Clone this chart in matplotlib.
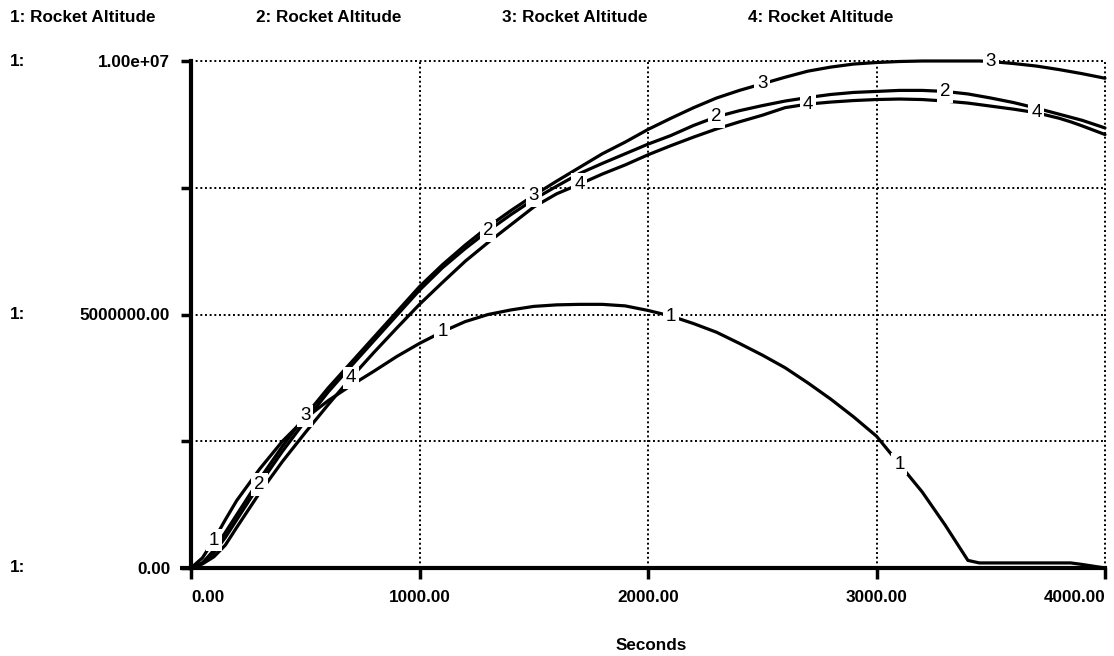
import numpy as np
import matplotlib
matplotlib.use("Agg")
import matplotlib.pyplot as plt
from matplotlib.transforms import blended_transform_factory

plt.rcParams['font.family'] = ['Liberation Sans', 'DejaVu Sans']

# ---- data (seconds, altitude) ----
time = [0, 50, 100, 150, 200, 300, 400, 500, 600, 700, 800, 900, 1000, 1100, 1200,
        1300, 1400, 1500, 1600, 1700, 1800, 1900, 2000, 2100, 2200, 2300, 2400, 2500,
        2600, 2700, 2800, 2900, 3000, 3100, 3200, 3300, 3400, 3450, 3500, 3600, 3700,
        3800, 3850, 3900, 4000]

alt1 = [0, 0.20e6, 0.55e6, 0.95e6, 1.33e6, 1.95e6, 2.50e6, 2.95e6, 3.30e6, 3.60e6,
        3.88e6, 4.17e6, 4.43e6, 4.66e6, 4.86e6, 5.00e6, 5.09e6, 5.16e6, 5.19e6, 5.20e6,
        5.20e6, 5.17e6, 5.08e6, 4.97e6, 4.82e6, 4.65e6, 4.43e6, 4.20e6, 3.95e6, 3.65e6,
        3.33e6, 2.98e6, 2.60e6, 2.05e6, 1.50e6, 0.85e6, 0.15e6, 0.10e6, 0.10e6, 0.10e6,
        0.10e6, 0.10e6, 0.10e6, 0.07e6, 0.0]

alt2 = [0, 0.10e6, 0.30e6, 0.60e6, 0.95e6, 1.65e6, 2.30e6, 2.90e6, 3.47e6, 3.98e6,
        4.48e6, 4.98e6, 5.48e6, 5.92e6, 6.30e6, 6.65e6, 6.97e6, 7.27e6, 7.53e6, 7.78e6,
        7.98e6, 8.17e6, 8.36e6, 8.53e6, 8.73e6, 8.90e6, 9.02e6, 9.12e6, 9.21e6, 9.28e6,
        9.34e6, 9.38e6, 9.40e6, 9.42e6, 9.42e6, 9.40e6, 9.35e6, 9.31e6, 9.27e6, 9.18e6,
        9.07e6, 8.95e6, 8.89e6, 8.83e6, 8.68e6]

alt3 = [0, 0.10e6, 0.35e6, 0.70e6, 1.05e6, 1.75e6, 2.40e6, 3.00e6, 3.55e6, 4.05e6,
        4.55e6, 5.05e6, 5.55e6, 5.98e6, 6.37e6, 6.73e6, 7.05e6, 7.35e6, 7.63e6, 7.90e6,
        8.17e6, 8.40e6, 8.65e6, 8.87e6, 9.08e6, 9.27e6, 9.42e6, 9.55e6, 9.68e6, 9.80e6,
        9.88e6, 9.94e6, 9.97e6, 9.99e6, 10.0e6, 10.0e6, 10.0e6, 10.0e6, 9.99e6, 9.95e6,
        9.90e6, 9.83e6, 9.79e6, 9.75e6, 9.66e6]

alt4 = [0, 0.08e6, 0.22e6, 0.45e6, 0.80e6, 1.48e6, 2.10e6, 2.67e6, 3.22e6, 3.75e6,
        4.25e6, 4.73e6, 5.20e6, 5.63e6, 6.05e6, 6.42e6, 6.77e6, 7.12e6, 7.38e6, 7.57e6,
        7.77e6, 7.95e6, 8.15e6, 8.33e6, 8.50e6, 8.66e6, 8.80e6, 8.93e6, 9.08e6, 9.15e6,
        9.19e6, 9.22e6, 9.24e6, 9.25e6, 9.24e6, 9.21e6, 9.17e6, 9.14e6, 9.11e6, 9.05e6,
        8.98e6, 8.87e6, 8.80e6, 8.72e6, 8.55e6]

series = [alt1, alt2, alt3, alt4]
legend_names = ["1: Rocket Altitude", "2: Rocket Altitude",
                "3: Rocket Altitude", "4: Rocket Altitude"]
x_ticks = [0, 1000, 2000, 3000, 4000]
x_tick_labels = ["0.00", "1000.00", "2000.00", "3000.00", "4000.00"]
y_ticks = [0, 2.5e6, 5e6, 7.5e6, 1e7]
y_tick_labels = ["0.00", "", "5000000.00", "", "1.00e+07"]

FS = 12.3
W, H = 1114, 656
fig = plt.figure(figsize=(W / 100, H / 100), dpi=100)
ax = fig.add_axes([191 / W, 88 / H, 914 / W, 507 / H])
ax.set_xlim(0, 4000)
ax.set_ylim(0, 1e7)

for s in ['top', 'right']:
    ax.spines[s].set_visible(False)
ax.spines['left'].set_linewidth(3.0)
ax.spines['bottom'].set_linewidth(3.0)
# bottom axis continues a little to the left of the y axis
ax.plot([-0.012, 0], [0, 0], transform=ax.transAxes, color='black', lw=3.0,
        clip_on=False, solid_capstyle='butt')

# dotted grid (including top and right border)
for xv in x_ticks[1:]:
    ax.axvline(xv, color='black', lw=1.4, ls=(0, (1, 1.4)), clip_on=False, zorder=1)
for yv in y_ticks[1:]:
    ax.axhline(yv, color='black', lw=1.4, ls=(0, (1, 1.4)), clip_on=False, zorder=1)

# curves
for s in series:
    ax.plot(time, s, color='black', lw=2.3, solid_joinstyle='round',
            solid_capstyle='round', clip_on=False, zorder=3)

# curve number labels
for k, s in enumerate(series):
    for j in range(4):
        t = 100 + 200 * k + 1000 * j
        yv = np.interp(t, time, s)
        ax.text(t, yv, str(k + 1), ha='center', va='center', fontsize=13.5,
                zorder=5, bbox=dict(facecolor='white', edgecolor='none', pad=2.0))

# ticks
ax.set_xticks(x_ticks)
ax.set_xticklabels(x_tick_labels, fontsize=FS, fontweight='bold')
ax.set_yticks(y_ticks)
ax.set_yticklabels(y_tick_labels, fontsize=FS, fontweight='bold')
ax.tick_params(axis='x', direction='out', length=8, width=2.5, pad=8)
ax.tick_params(axis='y', direction='out', length=7, width=2.5, pad=8)
xl = ax.get_xticklabels()
xl[0].set_ha('left')
xl[-1].set_ha('right')

# "1:" prefixes for the y labels
tr = blended_transform_factory(fig.transFigure, ax.transData)
for yv in [0, 5e6, 1e7]:
    ax.text(10 / W, yv, "1:", transform=tr, ha='left', va='center',
            fontsize=FS, fontweight='bold')

# header legend
for i, name in enumerate(legend_names):
    fig.text((10 + 246 * i) / W, 1 - 18 / H, name, ha='left', va='center',
             fontsize=FS, fontweight='bold')

fig.text(651 / W, 1 - 645 / H, "Seconds", ha='center', va='center',
         fontsize=FS, fontweight='bold')

fig.savefig("out.png", dpi=100)
